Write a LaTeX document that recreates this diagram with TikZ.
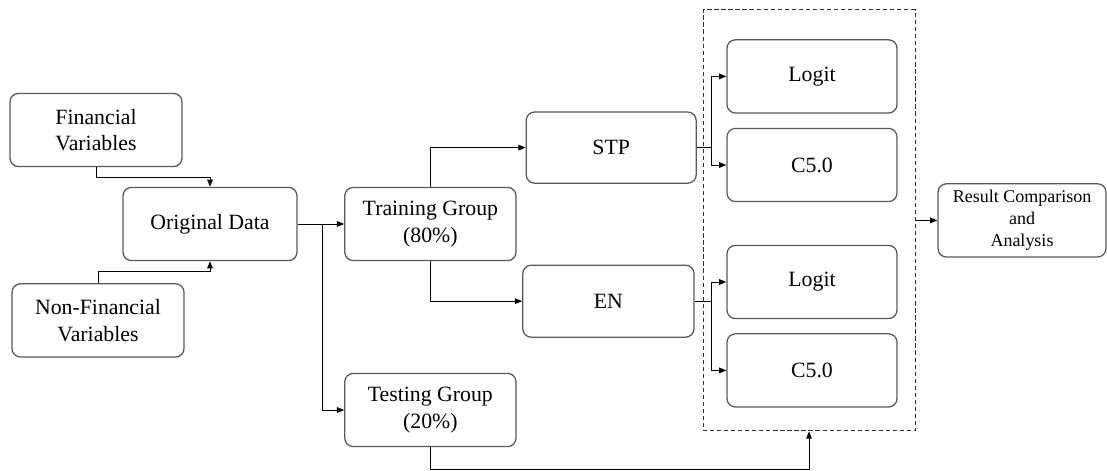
\documentclass[tikz,border=0pt]{standalone}
\usepackage{fontspec}
\setmainfont{Liberation Serif}
\newfontfamily\boxfont{Liberation Serif}
\usepackage{xcolor}
\usetikzlibrary{arrows.meta,positioning,calc}
\tikzset{
  blk/.style={rectangle,draw=black!65,line width=.9pt,rounded corners=6pt,fill=white,
    minimum width=4.3cm,minimum height=1.83cm,inner sep=2pt,align=center,
    font=\boxfont\fontsize{15.5}{19}\selectfont},
  res/.style={blk,minimum width=4.2cm,font=\boxfont\fontsize{12.8}{15.6}\selectfont},
  grp/.style={rectangle,draw=black!80,densely dashed,line width=.7pt,
    minimum width=5.3cm,minimum height=10.525cm,inner sep=0pt},
  arr/.style={line width=.7pt,black,-{Triangle[length=1.8mm,width=1.4mm]}},
  ln/.style={line width=.7pt,black}
}
\begin{document}
\begin{tikzpicture}
  \useasboundingbox (0,0) rectangle (27.675,-11.775);
  % inputs
  \node[blk] (fin) at (2.4,-3.25) {Financial\\Variables};
  \node[blk] (nfin) at (2.45,-8.01) {Non-Financial\\Variables};
  \node[blk,minimum width=4.35cm] (orig) at (5.25,-5.6) {Original Data};
  \draw[arr] (fin.south) -- ++(0,-0.25) -| (orig.north);
  \draw[arr] (nfin.north) -- ++(0,0.3) -| (orig.south);

  % split
  \node[blk,minimum width=4.28cm] (train) at (10.76,-5.6) {Training Group\\(80\%)};
  \node[blk,minimum width=4.28cm] (test) at (10.76,-10.25) {Testing Group\\(20\%)};
  \coordinate (sp) at (8.05,-5.6);
  \draw[arr] (orig) -- (train);
  \draw[arr] (sp) |- (test.west);

  % variable selection
  \node[blk,minimum width=4.25cm,minimum height=1.78cm] (stp) at (15.28,-3.69) {STP};
  \node[blk,minimum width=4.28cm,minimum height=1.8cm] (en) at (15.21,-7.53) {EN};
  \draw[arr] (train.north) |- (stp.west);
  \draw[arr] (train.south) |- (en.west);

  % models
  \node[grp] (mods) at (20.225,-5.51) {};
  \node[blk,minimum width=4.25cm] (lg1) at (20.3,-1.91) {Logit};
  \node[blk,minimum width=4.25cm] (c1) at (20.3,-4.125) {C5.0};
  \node[blk,minimum width=4.25cm] (lg2) at (20.3,-7.05) {Logit};
  \node[blk,minimum width=4.25cm] (c2) at (20.3,-9.26) {C5.0};
  \draw[ln] (stp.east) -- ++(0.375,0) coordinate (s1);
  \draw[arr] (s1) |- (lg1.west);
  \draw[arr] (s1) |- (c1.west);
  \draw[ln] (en.east) -- ++(0.425,0) coordinate (s2);
  \draw[arr] (s2) |- (lg2.west);
  \draw[arr] (s2) |- (c2.west);
  \draw[arr] (test.south) -- ++(0,-0.55) -| (mods.south);

  % result
  \node[res] (res) at (25.55,-5.51) {Result Comparison\\and\\Analysis};
  \draw[arr] (mods.east) -- (res.west);
\end{tikzpicture}
\end{document}
